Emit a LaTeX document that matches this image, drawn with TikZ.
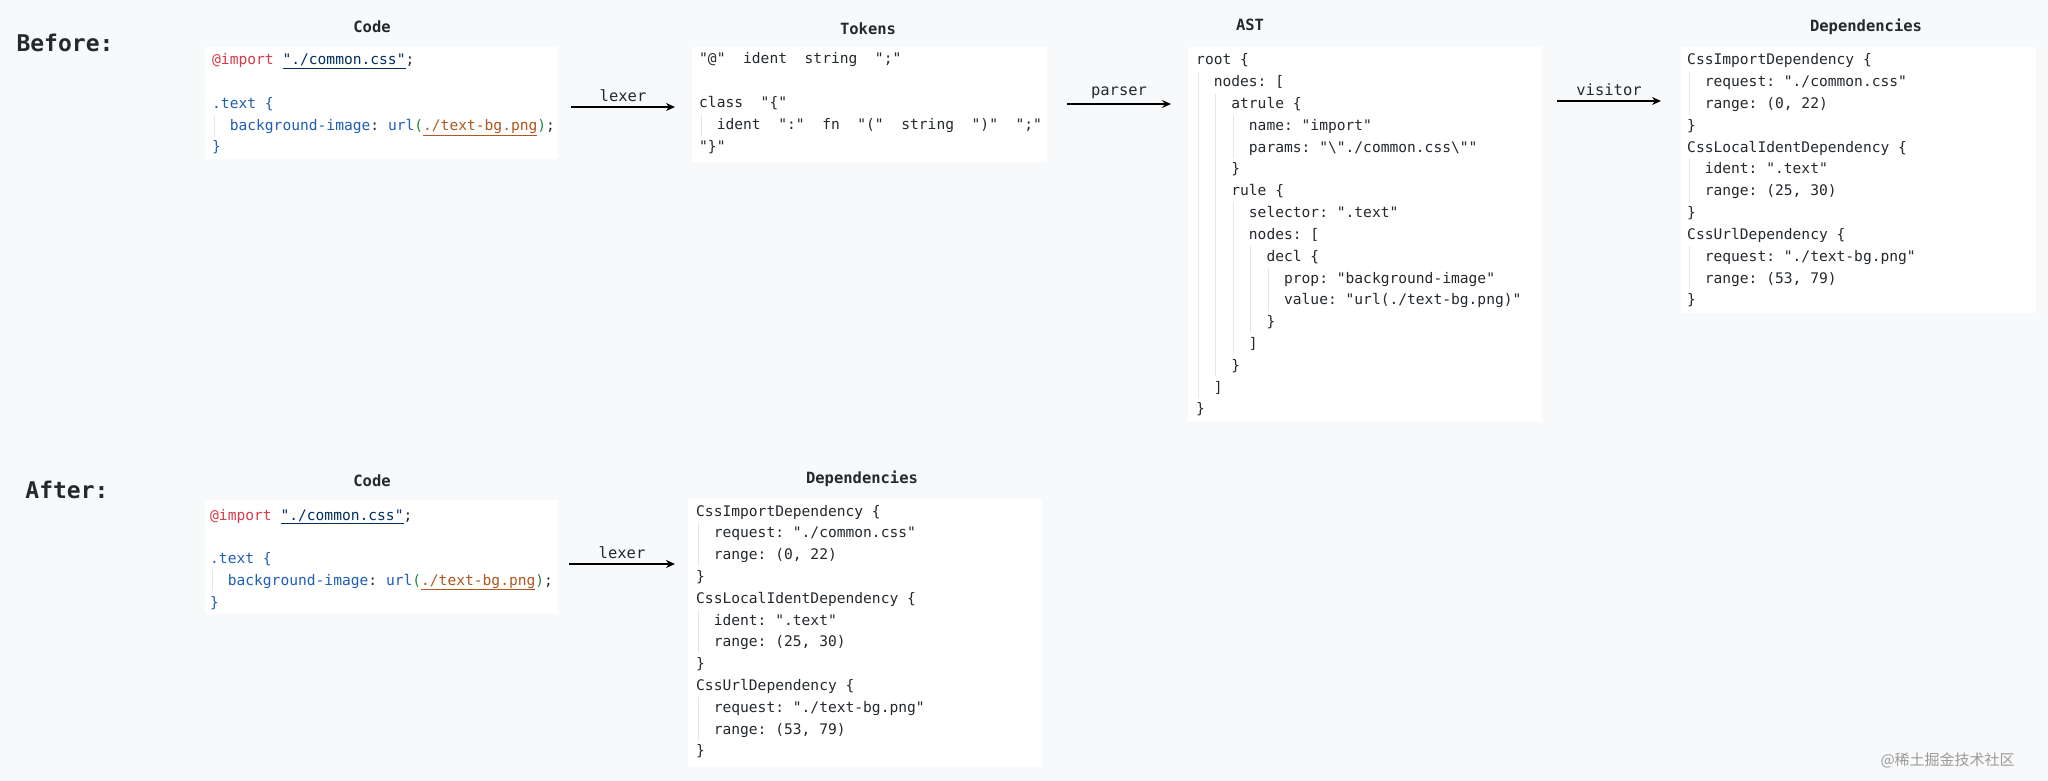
\documentclass[tikz,border=0pt]{standalone}
\usepackage{fontspec}
\setmainfont{DejaVu Sans}
\newfontfamily\cf{DejaVu Sans Mono}
\newfontfamily\cjk{Noto Sans CJK SC}
\usetikzlibrary{arrows.meta}
\definecolor{bgc}{HTML}{F8F9FB}
\definecolor{txt}{HTML}{24292E}
\definecolor{kwred}{HTML}{D73A49}
\definecolor{strnavy}{HTML}{032F62}
\definecolor{selblue}{HTML}{1F5FB5}
\definecolor{urlbrown}{HTML}{B0561E}
\definecolor{pgreen}{HTML}{22863A}
\definecolor{guidec}{HTML}{E4E6EA}
\newlength\cw
\newcommand\codefont{\cf\fontsize{14.6}{18}\selectfont}
\newcommand\myind[1]{\ifcase#1\or~~\or~~~~\or~~~~~~\or~~~~~~~~\or~~~~~~~~~~\fi}
\newcommand\cl[5]{\node[codeline] (#1) at (#2,#3) {\myind{#4}#5};}
\newcommand\guideln[4]{% x0, level, y first baseline, y last baseline
  \draw[guidec,line width=1pt] ({#1+\cwn*2*(#2-1)+2},{#3-15}) -- ({#1+\cwn*2*(#2-1)+2},{#4+6});}
\tikzset{
  codeline/.style={anchor=base west,inner sep=0pt,text=txt,font=\codefont},
  box/.style={fill=white,draw=none},
  title/.style={font=\cf\bfseries\fontsize{15.5}{18}\selectfont,text=txt,anchor=center},
  big/.style={font=\cf\bfseries\fontsize{23}{26}\selectfont,text=txt,anchor=center},
  flow/.style={-{Stealth[length=9pt,width=8pt]},line width=1.8pt,black},
  albl/.style={font=\cf\fontsize{15.5}{18}\selectfont,text=txt,anchor=south}
}
\begin{document}
\settowidth{\cw}{\codefont 0}
\pgfmathsetmacro\cwn{\cw/1pt}
\begin{tikzpicture}[x=1pt,y=-1pt]
\fill[bgc] (0,0) rectangle (2048,781);
\useasboundingbox (0,0) rectangle (2048,781);

% ---------- Before ----------
\node[big] (before) at (65,43) {Before:};
\node[title] (t1) at (372,27) {Code};
\node[title] (t2) at (868,29) {Tokens};
\node[title] (t3) at (1250,25) {AST};
\node[title] (t4) at (1866,27) {Dependencies};

\fill[box] (205,47) rectangle (558,159);
\fill[box] (692,47) rectangle (1047,162);
\fill[box] (1188,47) rectangle (1542,422);
\fill[box] (1681,47) rectangle (2036,313);

% Code
\guideln{212}{1}{131}{131}
\cl{c1}{212}{65}{0}{\textcolor{kwred}{@import}~\textcolor{strnavy}{\underline{"./common.css"}};}
\cl{c2}{212}{109}{0}{\textcolor{selblue}{.text~\{}}
\cl{c3}{212}{131}{1}{\textcolor{selblue}{background-image}:~\textcolor{selblue}{url}\textcolor{pgreen}{(}\textcolor{urlbrown}{\underline{./text-bg.png}}\textcolor{pgreen}{)};}
\cl{c4}{212}{152}{0}{\textcolor{selblue}{\}}}

% Tokens
\guideln{699}{1}{130}{130}
\cl{k1}{699}{64}{0}{"@"~~ident~~string~~";"}
\cl{k2}{699}{108}{0}{class~~"\{"}
\cl{k3}{699}{130}{1}{ident~~":"~~fn~~"("~~string~~")"~~";"}
\cl{k4}{699}{152}{0}{"\}"}

% AST
\guideln{1196}{1}{86.8}{392}
\guideln{1196}{2}{108.6}{370.2}
\guideln{1196}{3}{130.4}{152.2}
\guideln{1196}{3}{217.6}{348.4}
\guideln{1196}{4}{261.2}{326.6}
\guideln{1196}{5}{283}{304.8}
\cl{a0}{1196}{65}{0}{root~\{}
\cl{a1}{1196}{86.8}{1}{nodes:~[}
\cl{a2}{1196}{108.6}{2}{atrule~\{}
\cl{a3}{1196}{130.4}{3}{name:~"import"}
\cl{a4}{1196}{152.2}{3}{params:~"\textbackslash"./common.css\textbackslash""}
\cl{a5}{1196}{174}{2}{\}}
\cl{a6}{1196}{195.8}{2}{rule~\{}
\cl{a7}{1196}{217.6}{3}{selector:~".text"}
\cl{a8}{1196}{239.4}{3}{nodes:~[}
\cl{a9}{1196}{261.2}{4}{decl~\{}
\cl{a10}{1196}{283}{5}{prop:~"background-image"}
\cl{a11}{1196}{304.8}{5}{value:~"url(./text-bg.png)"}
\cl{a12}{1196}{326.6}{4}{\}}
\cl{a13}{1196}{348.4}{3}{]}
\cl{a14}{1196}{370.2}{2}{\}}
\cl{a15}{1196}{392}{1}{]}
\cl{a16}{1196}{413.8}{0}{\}}

% Dependencies (before)
\guideln{1687}{1}{86.8}{108.6}
\guideln{1687}{1}{174}{195.8}
\guideln{1687}{1}{261.2}{283}
\cl{d1}{1687}{65}{0}{CssImportDependency~\{}
\cl{d2}{1687}{86.8}{1}{request:~"./common.css"}
\cl{d3}{1687}{108.6}{1}{range:~(0,~22)}
\cl{d4}{1687}{130.4}{0}{\}}
\cl{d5}{1687}{152.2}{0}{CssLocalIdentDependency~\{}
\cl{d6}{1687}{174}{1}{ident:~".text"}
\cl{d7}{1687}{195.8}{1}{range:~(25,~30)}
\cl{d8}{1687}{217.6}{0}{\}}
\cl{d9}{1687}{239.4}{0}{CssUrlDependency~\{}
\cl{d10}{1687}{261.2}{1}{request:~"./text-bg.png"}
\cl{d11}{1687}{283}{1}{range:~(53,~79)}
\cl{d12}{1687}{304.8}{0}{\}}

% arrows (before)
\coordinate (l1s) at (571,107); \coordinate (l1e) at (675,107);
\draw[flow] (l1s) -- node[albl,above=1pt] {lexer} (l1e);
\coordinate (p1s) at (1067,104); \coordinate (p1e) at (1171,104);
\draw[flow] (p1s) -- node[albl,above=1pt] {parser} (p1e);
\coordinate (v1s) at (1557,101); \coordinate (v1e) at (1661,101);
\draw[flow] (v1s) -- node[albl,above=1pt] {visitor} (v1e);

% ---------- After ----------
\node[big] (after) at (67,490) {After:};
\node[title] (t5) at (372,481) {Code};
\node[title] (t6) at (862,479) {Dependencies};
\fill[box] (205,500) rectangle (558,614);
\fill[box] (688,498) rectangle (1042,767);

\guideln{210}{1}{585}{585}
\cl{e1}{210}{520}{0}{\textcolor{kwred}{@import}~\textcolor{strnavy}{\underline{"./common.css"}};}
\cl{e2}{210}{563}{0}{\textcolor{selblue}{.text~\{}}
\cl{e3}{210}{585}{1}{\textcolor{selblue}{background-image}:~\textcolor{selblue}{url}\textcolor{pgreen}{(}\textcolor{urlbrown}{\underline{./text-bg.png}}\textcolor{pgreen}{)};}
\cl{e4}{210}{607}{0}{\textcolor{selblue}{\}}}

\guideln{696}{1}{537.8}{559.6}
\guideln{696}{1}{625}{646.8}
\guideln{696}{1}{712.2}{734}
\cl{f1}{696}{516}{0}{CssImportDependency~\{}
\cl{f2}{696}{537.8}{1}{request:~"./common.css"}
\cl{f3}{696}{559.6}{1}{range:~(0,~22)}
\cl{f4}{696}{581.4}{0}{\}}
\cl{f5}{696}{603.2}{0}{CssLocalIdentDependency~\{}
\cl{f6}{696}{625}{1}{ident:~".text"}
\cl{f7}{696}{646.8}{1}{range:~(25,~30)}
\cl{f8}{696}{668.6}{0}{\}}
\cl{f9}{696}{690.4}{0}{CssUrlDependency~\{}
\cl{f10}{696}{712.2}{1}{request:~"./text-bg.png"}
\cl{f11}{696}{734}{1}{range:~(53,~79)}
\cl{f12}{696}{755.8}{0}{\}}

\coordinate (l2s) at (569,564); \coordinate (l2e) at (675,564);
\draw[flow] (l2s) -- node[albl,above=1pt] {lexer} (l2e);

\node[anchor=west,text=black!40,font=\cjk\fontsize{15}{18}\selectfont] (wm) at (1877,760) {@稀土掘金技术社区};
\end{tikzpicture}
\end{document}
